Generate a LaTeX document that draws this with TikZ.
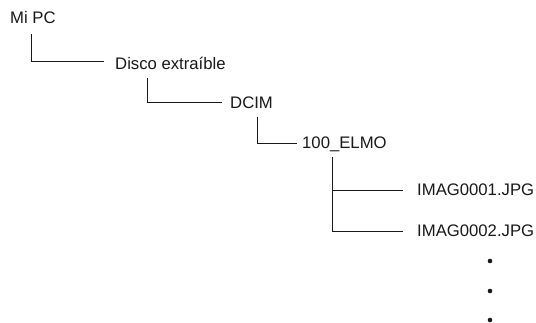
\documentclass[tikz,border=0pt]{standalone}
\usepackage{fontspec}
\setmainfont{Liberation Sans}
\begin{document}
\begin{tikzpicture}[x=1pt,y=-1pt,
  item/.style={anchor=base west,inner sep=0pt,text height=11.8pt,text depth=0pt,font=\fontsize{16.7}{19}\selectfont,text=black!90},
  branch/.style={draw=black!90,line width=0.85pt},
  dot/.style={circle,fill=black!90,inner sep=0pt,minimum size=4.6pt}]
\useasboundingbox (0,0) rectangle (536,323);
\node[item] (mipc) at (10,24) {Mi PC};
\node[item] (disco) at (115,70) {Disco extraíble};
\node[item] (dcim) at (230,109) {DCIM};
\node[item] (elmo) at (302,149) {100\_ELMO};
\node[item] (img1) at (417,196) {IMAG0001.JPG};
\node[item] (img2) at (417,237) {IMAG0002.JPG};
\coordinate (t1) at (31,34);
\coordinate (t2) at (147,78);
\coordinate (t3) at (257,117);
\coordinate (t4) at (332,157);
\draw[branch] (t1) |- ([xshift=-11pt,yshift=2.5pt]disco.west);
\draw[branch] (t2) |- ([xshift=-8pt,yshift=0.5pt]dcim.west);
\draw[branch] (t3) |- ([xshift=-5pt]elmo.west);
\draw[branch] (t4) |- ([xshift=-14pt]img2.west);
\draw[branch] (t4 |- img1.west) -- ([xshift=-14pt]img1.west);
\node[dot] (d1) at (490,261) {};
\node[dot] (d2) at (490,291) {};
\node[dot] (d3) at (490,320) {};
\end{tikzpicture}
\end{document}
